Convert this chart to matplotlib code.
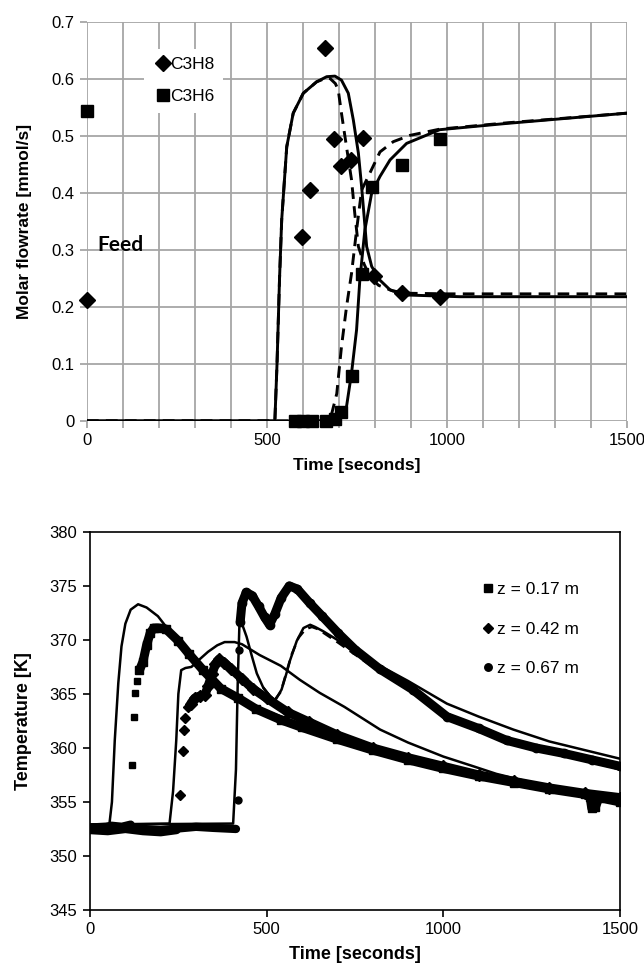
import matplotlib
matplotlib.use('Agg')
import matplotlib.pyplot as plt
from matplotlib.ticker import MultipleLocator, FuncFormatter

plt.rcParams['font.family'] = ['Liberation Sans', 'DejaVu Sans']

# ---- top panel: breakthrough flowrates ----
c3h8_t = [0, 598, 619, 662, 687, 707, 734, 767, 797, 876, 981]
c3h8_y = [0.213, 0.322, 0.406, 0.654, 0.494, 0.447, 0.457, 0.496, 0.254, 0.224, 0.218]
c3h6_t = [0, 578, 600, 626, 664, 689, 706, 736, 765, 793, 876, 982]
c3h6_y = [0.543, 0.0, 0.0, 0.0, 0.0, 0.004, 0.016, 0.079, 0.257, 0.410, 0.449, 0.495]

m_c3h8_t = [0, 522, 528, 535, 541, 555, 573, 601, 638, 666, 689, 707, 726, 740, 754,
            763, 777, 791, 814, 842, 888, 1036, 1500]
m_c3h8_y = [0, 0, 0.1, 0.25, 0.353, 0.481, 0.540, 0.575, 0.595, 0.604, 0.605, 0.598,
            0.575, 0.528, 0.470, 0.411, 0.306, 0.271, 0.247, 0.230, 0.221, 0.218, 0.218]
d_c3h8_t = [0, 522, 528, 535, 541, 555, 573, 601, 638, 666, 675, 690, 698, 707, 721,
            735, 744, 754, 770, 786, 810, 850, 900, 1000, 1200, 1500]
d_c3h8_y = [0, 0, 0.1, 0.25, 0.353, 0.481, 0.540, 0.575, 0.595, 0.602, 0.601, 0.592,
            0.581, 0.540, 0.481, 0.423, 0.364, 0.306, 0.275, 0.253, 0.238, 0.228, 0.224,
            0.223, 0.223, 0.223]
m_c3h6_t = [0, 690, 703, 721, 735, 749, 758, 772, 791, 814, 842, 888, 980, 1166, 1500]
m_c3h6_y = [0, 0, 0.002, 0.025, 0.084, 0.160, 0.247, 0.335, 0.400, 0.429, 0.458, 0.487,
            0.511, 0.522, 0.540]
d_c3h6_t = [0, 660, 680, 694, 707, 721, 735, 749, 763, 786, 814, 851, 897, 980, 1166, 1500]
d_c3h6_y = [0, 0, 0.013, 0.048, 0.130, 0.200, 0.259, 0.335, 0.405, 0.435, 0.472, 0.490,
            0.501, 0.512, 0.523, 0.540]

# ---- bottom panel: temperatures ----
z17_base_t = [0, 30, 60, 90, 115]
z17_base_T = [352.6, 352.5, 352.8, 352.7, 352.9]
z17_rise_t = [120, 124, 128, 134]
z17_rise_T = [358.4, 362.9, 365.1, 366.2]
z17_t = [140, 150, 160, 170, 180, 195, 215, 250, 280, 320, 370, 420, 470, 540, 600, 700,
         800, 900, 1000, 1100, 1200, 1300, 1400, 1415, 1420, 1430, 1440, 1500]
z17_T = [367.2, 368.0, 369.5, 370.6, 371.1, 371.1, 371.0, 369.9, 368.7, 367.2, 365.5,
         364.6, 363.6, 362.6, 361.9, 360.8, 359.8, 358.9, 358.1, 357.4, 356.8, 356.2,
         355.7, 355.5, 354.4, 354.5, 355.4, 355.0]

z42_base_t = [0, 50, 100, 150, 200, 245]
z42_base_T = [352.4, 352.3, 352.5, 352.3, 352.2, 352.4]
z42_rise_t = [256, 262, 266, 270, 277]
z42_rise_T = [355.6, 359.7, 361.7, 362.8, 363.8]
z42_t = [285, 296, 310, 325, 334, 345, 355, 365, 380, 400, 430, 460, 500, 560, 620, 700,
         800, 900, 1000, 1100, 1200, 1300, 1400, 1500]
z42_T = [364.1, 364.6, 364.8, 364.9, 365.7, 366.8, 367.8, 368.2, 367.9, 367.3, 366.4,
         365.5, 364.6, 363.3, 362.4, 361.2, 360.0, 359.1, 358.3, 357.5, 356.9, 356.3,
         355.8, 355.4]

z67_base_t = [0, 100, 200, 300, 350, 413]
z67_base_T = [352.6, 352.6, 352.4, 352.7, 352.6, 352.5]
z67_rise_t = [419, 422]
z67_rise_T = [355.2, 369.1]
z67_t = [425, 430, 442, 459, 477, 494, 508, 523, 541, 564, 587, 622, 657, 703, 750, 820,
         913, 1010, 1100, 1179, 1262, 1340, 1420, 1500]
z67_T = [371.7, 373.4, 374.4, 374.1, 373.1, 372.1, 371.4, 372.4, 373.9, 375.0, 374.7,
         373.4, 372.2, 370.6, 369.1, 367.3, 365.4, 362.9, 361.8, 360.7, 360.0, 359.5,
         358.9, 358.3]

m17_t = [0, 55, 62, 70, 80, 89, 100, 115, 136, 160, 192, 230, 277, 330, 400, 500, 600,
         700, 800, 900, 1000, 1100, 1200, 1300, 1400, 1500]
m17_T = [352.9, 353.0, 355.0, 360.7, 366.0, 369.4, 371.5, 372.8, 373.3, 373.0, 372.2,
         370.6, 368.5, 366.7, 365.0, 363.4, 362.2, 361.0, 359.9, 358.9, 358.1, 357.4,
         356.8, 356.2, 355.7, 355.2]
m42_t = [0, 225, 235, 244, 250, 258, 270, 287, 310, 334, 360, 381, 409, 430, 480, 540,
         594, 650, 720, 821, 900, 1000, 1085, 1150, 1250, 1350, 1500]
m42_T = [352.9, 353.0, 356.0, 360.7, 365.0, 367.2, 367.4, 367.5, 368.2, 368.9, 369.5,
         369.8, 369.8, 369.6, 368.6, 367.6, 366.3, 365.1, 363.8, 361.7, 360.5, 359.2,
         358.3, 357.6, 356.8, 356.2, 355.3]
m67_t = [0, 405, 413, 418, 423, 430, 443, 458, 472, 490, 509, 524, 542, 555, 566, 585,
         604, 623, 637, 660, 700, 750, 783, 821, 900, 1010, 1100, 1198, 1300, 1400, 1500]
m67_T = [352.9, 353.0, 358.0, 366.0, 371.7, 371.5, 370.3, 368.5, 366.9, 365.6, 364.8,
         364.4, 365.4, 366.8, 368.1, 369.9, 371.1, 371.4, 371.2, 370.8, 370.0, 368.8,
         368.0, 367.6, 366.2, 364.1, 362.9, 361.7, 360.6, 359.8, 359.0]
d67_t = [490, 509, 524, 540, 555, 570, 590, 610, 628, 645, 700, 800, 900, 1000, 1100,
         1200, 1300, 1400, 1500]
d67_T = [365.6, 364.8, 364.5, 365.2, 366.9, 368.6, 370.2, 371.0, 371.2, 371.0, 369.8,
         367.5, 365.6, 363.2, 361.9, 360.7, 359.8, 358.9, 358.0]

fig = plt.figure(figsize=(6.44, 9.72), dpi=100)

# top chart
ax = fig.add_axes([0.135, 0.5669, 0.8385, 0.4105])
grid_c = '#a6a6a6'
for s in ax.spines.values():
    s.set_visible(False)
ax.set_xlim(0, 1500)
ax.set_ylim(0, 0.7)
ax.xaxis.set_major_locator(MultipleLocator(500))
ax.xaxis.set_minor_locator(MultipleLocator(100))
ax.yaxis.set_major_locator(MultipleLocator(0.1))
ax.yaxis.set_major_formatter(FuncFormatter(lambda v, p: '%g' % round(v, 2)))
ax.grid(True, which='both', color=grid_c, lw=1.3)
ax.tick_params(which='both', direction='out', length=5, color=grid_c, width=1.3,
               labelsize=12, pad=4)
ax.set_axisbelow(True)

ax.plot(m_c3h8_t, m_c3h8_y, color='black', lw=2.1)
ax.plot(d_c3h8_t, d_c3h8_y, color='black', lw=2.1, ls=(0, (4, 2.5)))
ax.plot(m_c3h6_t, m_c3h6_y, color='black', lw=2.1)
ax.plot(d_c3h6_t, d_c3h6_y, color='black', lw=2.1, ls=(0, (4, 2.5)))
ax.plot(c3h8_t, c3h8_y, ls='none', marker='D', ms=8, color='black', label='C3H8',
        clip_on=False)
ax.plot(c3h6_t, c3h6_y, ls='none', marker='s', ms=9, color='black', label='C3H6',
        clip_on=False)
leg = ax.legend(loc='upper left', bbox_to_anchor=(0.09, 0.955), fontsize=12.5,
                handletextpad=-0.2, handlelength=1.2, borderpad=0.5, labelspacing=0.95,
                fancybox=False, framealpha=1)
leg.get_frame().set_edgecolor('none')
ax.text(30, 0.309, 'Feed', family=['Lato', 'DejaVu Sans'], fontweight='bold',
        fontsize=15, va='center')
ax.set_xlabel('Time [seconds]', fontsize=12.5, fontweight='bold', labelpad=7)
ax.set_ylabel('Molar flowrate [mmol/s]', fontsize=12.5, fontweight='bold', labelpad=14)

# bottom chart
bx = fig.add_axes([0.1398, 0.0638, 0.823, 0.389])
bx.set_xlim(0, 1500)
bx.set_ylim(345, 380)
bx.xaxis.set_major_locator(MultipleLocator(500))
bx.yaxis.set_major_locator(MultipleLocator(5))
for s in bx.spines.values():
    s.set_linewidth(1.2)
bx.tick_params(direction='out', length=5, width=1.2, labelsize=12, pad=4)

bx.plot(m17_t, m17_T, color='black', lw=1.8)
bx.plot(m42_t, m42_T, color='black', lw=1.8)
bx.plot(m67_t, m67_T, color='black', lw=1.8)
bx.plot(d67_t, d67_T, color='black', lw=1.8, ls=(0, (4, 2.5)))

for bt, bT, rt, rT, mt, mT, mk, lab in [
        (z17_base_t, z17_base_T, z17_rise_t, z17_rise_T, z17_t, z17_T, 's', 'z = 0.17 m'),
        (z42_base_t, z42_base_T, z42_rise_t, z42_rise_T, z42_t, z42_T, 'D', 'z = 0.42 m'),
        (z67_base_t, z67_base_T, z67_rise_t, z67_rise_T, z67_t, z67_T, 'o', 'z = 0.67 m')]:
    bx.plot(bt, bT, color='black', lw=6, solid_capstyle='round')
    bx.plot(mt, mT, color='black', lw=6.5, solid_capstyle='round', solid_joinstyle='round')
    bx.plot(rt, rT, ls='none', marker=mk, ms=5, color='black')
    bx.plot(mt, mT, ls='none', marker=mk, ms=6, color='black', label=lab)

bl = bx.legend(loc='upper right', bbox_to_anchor=(0.935, 0.885), fontsize=12.5,
               frameon=False, handletextpad=0.1, handlelength=0.8, labelspacing=1.4,
               markerscale=0.9, borderaxespad=0)
bx.set_xlabel('Time [seconds]', fontsize=13, fontweight='bold', labelpad=6)
bx.set_ylabel('Temperature [K]', fontsize=13, fontweight='bold', labelpad=13)

fig.savefig('out.png', dpi=100)
